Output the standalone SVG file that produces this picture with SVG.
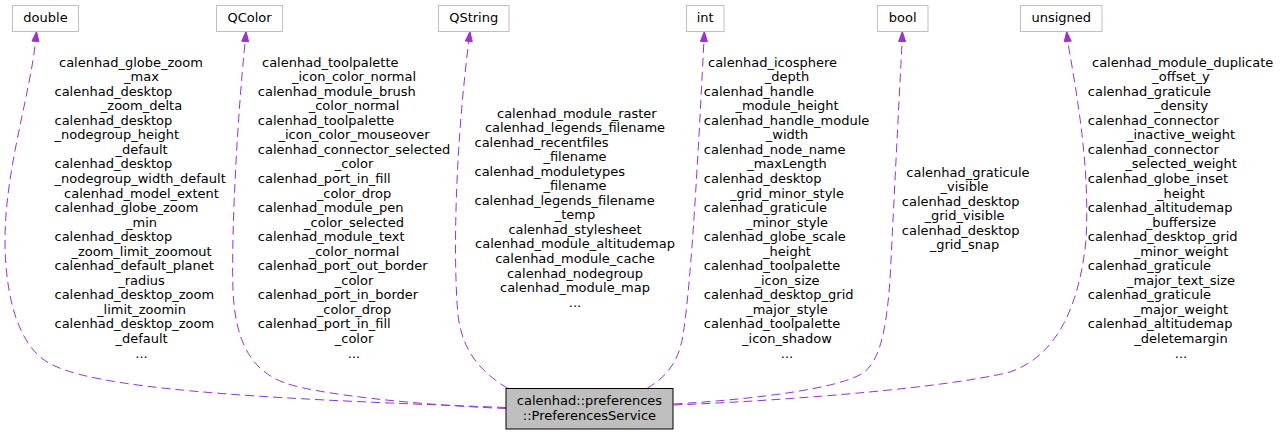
<svg xmlns="http://www.w3.org/2000/svg" width="1280" height="435" viewBox="0 0 1280 435">
<style>
text{font-family:"DejaVu Sans","Liberation Sans",sans-serif;font-size:13px;fill:#000}
.m{text-anchor:middle}
.box{fill:#fff;stroke:#bfbfbf;stroke-width:1}
.main{fill:#bfbfbf;stroke:#000;stroke-width:1}
.e{fill:none;stroke:#9a32cd;stroke-width:1;stroke-dasharray:9,5}
.ah{fill:#9a32cd;stroke:#9a32cd;stroke-width:1}
</style>
<rect width="1280" height="435" fill="#fff"/>
<g id="connectors">
<g id="e-double">
<path class="e" d="M506,407.5 C300,400 110,392 55,366 C20,352 5,300 5,240 C5,170 30,95 35.5,41.5"/>
<polygon class="ah" points="36.5,31.5 39,41.8 32,41.1"/>
<text x="59" y="66.5">calenhad_globe_zoom</text>
<text class="m" x="141.5" y="81">_max</text>
<text x="54.5" y="95.6">calenhad_desktop</text>
<text class="m" x="141.5" y="110.2">_zoom_delta</text>
<text x="54.5" y="124.7">calenhad_desktop</text>
<text x="54.5" y="139.3">_nodegroup_height</text>
<text class="m" x="141.5" y="153.8">_default</text>
<text x="54.5" y="168.4">calenhad_desktop</text>
<text x="54.5" y="182.9">_nodegroup_width_default</text>
<text class="m" x="141.5" y="197.5">calenhad_model_extent</text>
<text x="54.5" y="212">calenhad_globe_zoom</text>
<text class="m" x="141.5" y="226.6">_min</text>
<text x="54.5" y="241.1">calenhad_desktop</text>
<text class="m" x="141.5" y="255.7">_zoom_limit_zoomout</text>
<text x="54.5" y="270.2">calenhad_default_planet</text>
<text class="m" x="141.5" y="284.8">_radius</text>
<text x="54.5" y="299.3">calenhad_desktop_zoom</text>
<text class="m" x="141.5" y="313.9">_limit_zoomin</text>
<text x="54.5" y="328.4">calenhad_desktop_zoom</text>
<text class="m" x="141.5" y="343">_default</text>
<text class="m" x="141.5" y="357.5">...</text>
</g>
<g id="e-qcolor">
<path class="e" d="M506,408.5 C420,405 320,395 285,383 C250,370 235,340 233,290 C231,230 238,110 245.2,41.5"/>
<polygon class="ah" points="246,31.5 248.7,41.8 241.7,41.2"/>
<text x="262" y="66.5">calenhad_toolpalette</text>
<text class="m" x="354" y="81">_icon_color_normal</text>
<text x="257.8" y="95.6">calenhad_module_brush</text>
<text class="m" x="354" y="110.2">_color_normal</text>
<text x="257.8" y="124.7">calenhad_toolpalette</text>
<text class="m" x="354" y="139.3">_icon_color_mouseover</text>
<text x="257.8" y="153.8">calenhad_connector_selected</text>
<text class="m" x="354" y="168.4">_color</text>
<text x="257.8" y="182.9">calenhad_port_in_fill</text>
<text class="m" x="354" y="197.5">_color_drop</text>
<text x="257.8" y="212">calenhad_module_pen</text>
<text class="m" x="354" y="226.6">_color_selected</text>
<text x="257.8" y="241.1">calenhad_module_text</text>
<text class="m" x="354" y="255.7">_color_normal</text>
<text x="257.8" y="270.2">calenhad_port_out_border</text>
<text class="m" x="354" y="284.8">_color</text>
<text x="257.8" y="299.3">calenhad_port_in_border</text>
<text class="m" x="354" y="313.9">_color_drop</text>
<text x="257.8" y="328.4">calenhad_port_in_fill</text>
<text class="m" x="354" y="343">_color</text>
<text class="m" x="354" y="357.5">...</text>
</g>
<g id="e-qstring">
<path class="e" d="M508,388.5 C480,372 462,350 458,315 C453,260 455,150 468.8,41.4"/>
<polygon class="ah" points="470,31.5 472.3,41.8 465.3,41"/>
<text x="497" y="117.5">calenhad_module_raster</text>
<text class="m" x="575" y="132">calenhad_legends_filename</text>
<text x="474.5" y="146.6">calenhad_recentfiles</text>
<text class="m" x="575" y="161.1">_filename</text>
<text x="474.5" y="175.7">calenhad_moduletypes</text>
<text class="m" x="575" y="190.2">_filename</text>
<text x="474.5" y="204.8">calenhad_legends_filename</text>
<text class="m" x="575" y="219.3">_temp</text>
<text class="m" x="575" y="233.9">calenhad_stylesheet</text>
<text class="m" x="575" y="248.4">calenhad_module_altitudemap</text>
<text class="m" x="575" y="263">calenhad_module_cache</text>
<text class="m" x="575" y="277.5">calenhad_nodegroup</text>
<text class="m" x="575" y="292.1">calenhad_module_map</text>
<text class="m" x="575" y="306.6">...</text>
</g>
<g id="e-int">
<path class="e" d="M647,388.5 C668,376 679,360 683,335 C690,290 696,200 703.9,41.5"/>
<polygon class="ah" points="704.3,31.5 707.4,41.6 700.4,41.4"/>
<text x="708" y="66.5">calenhad_icosphere</text>
<text class="m" x="787" y="81">_depth</text>
<text x="703.8" y="95.6">calenhad_handle</text>
<text class="m" x="787" y="110.2">_module_height</text>
<text x="703.8" y="124.7">calenhad_handle_module</text>
<text class="m" x="787" y="139.3">_width</text>
<text x="703.8" y="153.8">calenhad_node_name</text>
<text class="m" x="787" y="168.4">_maxLength</text>
<text x="703.8" y="182.9">calenhad_desktop</text>
<text class="m" x="787" y="197.5">_grid_minor_style</text>
<text x="703.8" y="212">calenhad_graticule</text>
<text class="m" x="787" y="226.6">_minor_style</text>
<text x="703.8" y="241.1">calenhad_globe_scale</text>
<text class="m" x="787" y="255.7">_height</text>
<text x="703.8" y="270.2">calenhad_toolpalette</text>
<text class="m" x="787" y="284.8">_icon_size</text>
<text x="703.8" y="299.3">calenhad_desktop_grid</text>
<text class="m" x="787" y="313.9">_major_style</text>
<text x="703.8" y="328.4">calenhad_toolpalette</text>
<text class="m" x="787" y="343">_icon_shadow</text>
<text class="m" x="787" y="357.5">...</text>
</g>
<g id="e-bool">
<path class="e" d="M673.5,404 C760,399 840,388 863,373 C882,360 887,320 890,280 C894,200 898,120 902.1,41.5"/>
<polygon class="ah" points="902.3,31.5 905.6,41.5 898.6,41.5"/>
<text x="906.3" y="176.5">calenhad_graticule</text>
<text class="m" x="964.5" y="191">_visible</text>
<text x="901.8" y="205.6">calenhad_desktop</text>
<text class="m" x="964.5" y="220.1">_grid_visible</text>
<text x="901.8" y="234.7">calenhad_desktop</text>
<text class="m" x="964.5" y="249.2">_grid_snap</text>
</g>
<g id="e-unsigned">
<path class="e" d="M673.5,405 C800,400 950,387 1010,372 C1060,355 1080,300 1086,240 C1090,170 1078,100 1067.7,41.5"/>
<polygon class="ah" points="1066.7,31.5 1071.2,41.1 1064.2,41.8"/>
<text x="1092" y="66.5">calenhad_module_duplicate</text>
<text class="m" x="1181" y="81">_offset_y</text>
<text x="1087.8" y="95.6">calenhad_graticule</text>
<text class="m" x="1181" y="110.2">_density</text>
<text x="1087.8" y="124.7">calenhad_connector</text>
<text class="m" x="1181" y="139.3">_inactive_weight</text>
<text x="1087.8" y="153.8">calenhad_connector</text>
<text class="m" x="1181" y="168.4">_selected_weight</text>
<text x="1087.8" y="182.9">calenhad_globe_inset</text>
<text class="m" x="1181" y="197.5">_height</text>
<text x="1087.8" y="212">calenhad_altitudemap</text>
<text class="m" x="1181" y="226.6">_buffersize</text>
<text x="1087.8" y="241.1">calenhad_desktop_grid</text>
<text class="m" x="1181" y="255.7">_minor_weight</text>
<text x="1087.8" y="270.2">calenhad_graticule</text>
<text class="m" x="1181" y="284.8">_major_text_size</text>
<text x="1087.8" y="299.3">calenhad_graticule</text>
<text class="m" x="1181" y="313.9">_major_weight</text>
<text x="1087.8" y="328.4">calenhad_altitudemap</text>
<text class="m" x="1181" y="343">_deletemargin</text>
<text class="m" x="1181" y="357.5">...</text>
</g>
</g>
<g id="node-main">
<rect class="main" x="506" y="388.5" width="167" height="40.5"/>
<text class="m" x="589.5" y="405">calenhad::preferences</text>
<text class="m" x="589.5" y="419.5">::PreferencesService</text>
</g>
<g id="node-double">
<rect class="box" x="12.5" y="5.5" width="66" height="26"/>
<text class="m" x="45.5" y="22">double</text>
</g>
<g id="node-qcolor">
<rect class="box" x="216.5" y="5.5" width="66" height="26"/>
<text class="m" x="249.5" y="22">QColor</text>
</g>
<g id="node-qstring">
<rect class="box" x="438.5" y="5.5" width="70.5" height="26"/>
<text class="m" x="473.7" y="22">QString</text>
</g>
<g id="node-int">
<rect class="box" x="686.5" y="5.5" width="37.5" height="26"/>
<text class="m" x="705.2" y="22">int</text>
</g>
<g id="node-bool">
<rect class="box" x="877.5" y="5.5" width="50.5" height="26"/>
<text class="m" x="902.7" y="22">bool</text>
</g>
<g id="node-unsigned">
<rect class="box" x="1020.5" y="5.5" width="81.5" height="26"/>
<text class="m" x="1061.3" y="22">unsigned</text>
</g>
</svg>
